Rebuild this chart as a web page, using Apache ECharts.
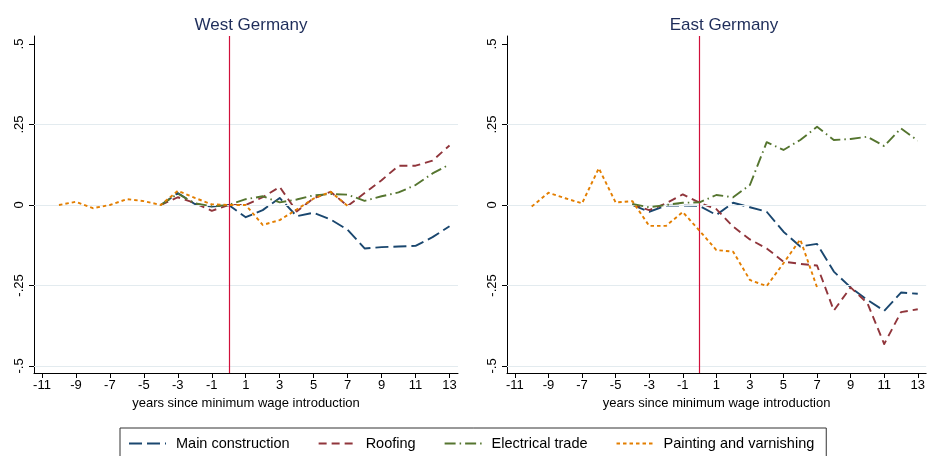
<!DOCTYPE html>
<html>
<head>
<meta charset="utf-8">
<script src="https://cdn.jsdelivr.net/npm/echarts@6/dist/echarts.min.js"></script>
<style>
html,body{margin:0;padding:0;background:#fff;}
#chart{width:928px;height:456px;}
</style>
</head>
<body>
<div id="chart"></div>
<script>
// ---- data ----
const panelTitles = ["West Germany", "East Germany"];
const seriesNames = ["Main construction", "Roofing", "Electrical trade", "Painting and varnishing"];
const yearsLong = [-10,-9,-8,-7,-6,-5,-4,-3,-2,-1,0,1,2,3,4,5,6,7];
const yearsMain = [-4,-3,-2,-1,0,1,2,3,4,5,6,7,8,9,10,11,12,13];
const xTicks = [-11,-9,-7,-5,-3,-1,1,3,5,7,9,11,13];
const yTicks = [-0.5,-0.25,0,0.25,0.5];
const xAxisTitle = "years since minimum wage introduction";

// West Germany
const mainW  = [0, 0.037, 0.003, -0.005, 0, -0.038, -0.016, 0.022, -0.035, -0.024, -0.045, -0.077, -0.135, -0.131, -0.129, -0.127, -0.100, -0.066];
const roofW  = [0, 0.024, 0.006, -0.018, 0, 0, 0.024, 0.056, -0.020, 0.021, 0.041, -0.003, 0.037, 0.077, 0.122, 0.122, 0.138, 0.185];
const elecW  = [0, 0.035, 0.005, -0.004, 0, 0.018, 0.027, 0.008, 0.017, 0.030, 0.034, 0.032, 0.013, 0.027, 0.039, 0.062, 0.098, 0.126];
const paintW = [0, 0.010, -0.010, 0, 0.018, 0.012, 0, 0.044, 0.022, 0.002, 0, 0, -0.062, -0.047, -0.014, 0.020, 0.041, -0.003];

// East Germany
const mainE  = [0, -0.021, -0.002, -0.002, -0.003, -0.031, 0.007, -0.007, -0.021, -0.083, -0.129, -0.121, -0.207, -0.256, -0.295, -0.329, -0.272, -0.276];
const roofE  = [0.002, -0.016, 0.005, 0.033, 0.007, -0.013, -0.067, -0.107, -0.135, -0.176, -0.183, -0.188, -0.328, -0.256, -0.305, -0.432, -0.333, -0.324];
const elecE  = [0.003, -0.007, 0, 0.007, 0.008, 0.031, 0.024, 0.062, 0.195, 0.171, 0.202, 0.243, 0.202, 0.205, 0.212, 0.183, 0.238, 0.200];
const paintE = [-0.005, 0.038, 0.021, 0.005, 0.114, 0.008, 0.012, -0.065, -0.065, -0.022, -0.080, -0.140, -0.145, -0.233, -0.252, -0.181, -0.107, -0.256];

// ---- styles ----
const colors = ["#1a476f", "#90353b", "#55752f", "#e37e00"];
const dashes = [[13,5], [8,5], [11,4,1.5,4], [3.5,3]];
const FONT = "Liberation Sans, Arial, sans-serif";

const pair = (xs, ys) => xs.map((x, i) => [x, ys[i]]);
const fmtY = v => {
  if (Math.abs(v) < 1e-9) return "0";
  return String(v).replace("0.", ".");
};

const grids = [
  {left: 34, top: 36, width: 424, bottom: 83},
  {left: 507, top: 36, width: 427, bottom: 83}
];

const panelData = [
  [pair(yearsMain, mainW), pair(yearsMain, roofW), pair(yearsMain, elecW), pair(yearsLong, paintW)],
  [pair(yearsMain, mainE), pair(yearsMain, roofE), pair(yearsMain, elecE), pair(yearsLong, paintE)]
];

const xAxes = [], yAxes = [], series = [], titles = [];
[0,1].forEach(p => {
  xAxes.push({
    gridIndex: p, type: "value", min: -11.47, max: 13.5,
    axisLine: {show: true, onZero: false, lineStyle: {color: "#000", width: 1}},
    axisTick: {show: true, length: 5, lineStyle: {color: "#000"}, customValues: xTicks},
    axisLabel: {color: "#000", fontSize: 13, fontFamily: FONT, margin: 6, customValues: xTicks},
    splitLine: {show: false},
    name: xAxisTitle, nameLocation: "middle", nameGap: 20,
    nameTextStyle: {color: "#000", fontSize: 13, fontFamily: FONT}
  });
  yAxes.push({
    gridIndex: p, type: "value", min: -0.522, max: 0.525,
    axisLine: {show: true, onZero: false, lineStyle: {color: "#000", width: 1}},
    axisTick: {show: true, length: 5, lineStyle: {color: "#000"}, customValues: yTicks},
    axisLabel: {color: "#000", fontSize: 13, fontFamily: FONT, rotate: 90, margin: 8,
      customValues: yTicks, formatter: fmtY},
    splitLine: {show: false}
  });
  // gridlines
  series.push({
    type: "line", xAxisIndex: p, yAxisIndex: p, data: [], z: 1, silent: true,
    markLine: {
      silent: true, symbol: "none", label: {show: false},
      lineStyle: {color: "#e3ebef", width: 1, type: "solid"},
      data: yTicks.filter(v => v < 0.5).map(v => ({yAxis: v}))
    }
  });
  seriesNames.forEach((n, i) => {
    series.push({
      name: n, type: "line", xAxisIndex: p, yAxisIndex: p,
      data: panelData[p][i], symbol: "none", z: 3 + i,
      lineStyle: {color: colors[i], width: 1.9, type: dashes[i], cap: "butt", join: "round"},
      itemStyle: {color: colors[i]}
    });
  });
  // vertical line at 0
  series.push({
    type: "line", xAxisIndex: p, yAxisIndex: p, data: [], z: 10, silent: true,
    markLine: {
      silent: true, symbol: "none", label: {show: false},
      lineStyle: {color: "#d0103a", width: 1.2, type: "solid"},
      data: [{xAxis: 0}]
    }
  });
  titles.push({
    text: panelTitles[p], left: p === 0 ? 246 : 719, top: 12, textAlign: "center",
    textStyle: {color: "#1e2d5a", fontSize: 17, fontWeight: "normal", fontFamily: FONT}
  });
});

const chart = echarts.init(document.getElementById("chart"), null, {renderer: "canvas"});
chart.setOption({
  animation: false,
  backgroundColor: "#fff",
  title: titles,
  grid: grids,
  xAxis: xAxes,
  yAxis: yAxes,
  legend: {
    data: seriesNames, left: 120, top: 428, orient: "horizontal",
    itemWidth: 37, itemHeight: 14, itemGap: 28,
    itemStyle: {opacity: 0},
    borderColor: "#333", borderWidth: 1, padding: [8, 12, 10, 8],
    textStyle: {color: "#000", fontSize: 14.5, fontFamily: FONT, padding: [0, 0, 0, 5]}
  },
  series: series
});
</script>
</body>
</html>
